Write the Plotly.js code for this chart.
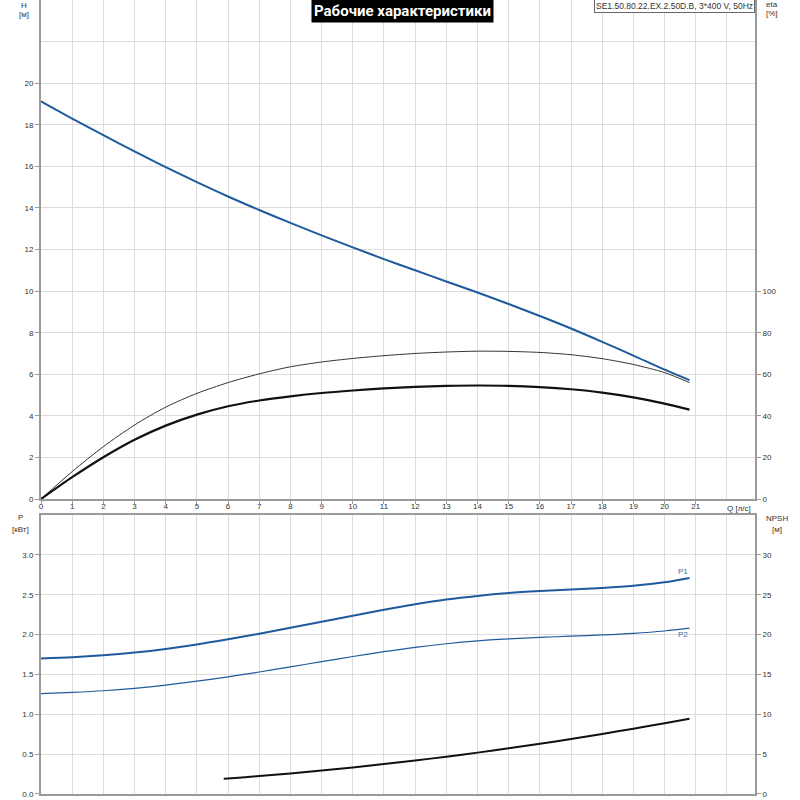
<!DOCTYPE html>
<html>
<head>
<meta charset="utf-8">
<script src="https://cdn.plot.ly/plotly-3.0.1.min.js"></script>
<style>html,body{margin:0;padding:0;background:#fff;}#chart{width:800px;height:800px;}</style>
</head>
<body>
<div id="chart"></div>
<script>
// ---- data ----
const Q = [0,1,2,3,4,5,6,7,8,9,10,11,12,13,14,15,16,17,18,19,20,20.8];
const H = [19.13,18.3,17.5,16.72,15.96,15.24,14.55,13.9,13.28,12.68,12.1,11.54,11.0,10.46,9.93,9.38,8.8,8.2,7.56,6.9,6.22,5.72];
const etaPump = [0,13.2,25.2,35.6,44.2,50.8,56,60.2,63.6,65.9,67.6,68.95,70,70.7,71.1,71.0,70.5,69.4,67.5,64.7,60.8,56];
const etaTotal = [0,10.5,20.1,28.5,35.3,40.6,44.6,47.4,49.4,51.0,52.2,53.2,53.9,54.4,54.6,54.45,53.85,52.8,51.2,48.9,45.9,43];
const P1 = [1.70,1.715,1.74,1.775,1.82,1.875,1.94,2.01,2.085,2.16,2.235,2.31,2.38,2.44,2.485,2.52,2.545,2.565,2.585,2.612,2.655,2.71];
const P2 = [1.26,1.275,1.295,1.325,1.365,1.415,1.47,1.53,1.595,1.66,1.725,1.785,1.84,1.885,1.92,1.945,1.965,1.98,1.995,2.015,2.045,2.08];
const Qnpsh = [5.86,6,7,8,9,10,11,12,13,14,15,16,17,18,19,20,20.8];
const NPSH = [1.92,1.96,2.25,2.58,2.94,3.33,3.75,4.2,4.68,5.19,5.73,6.30,6.90,7.53,8.19,8.88,9.43];
const xTicks = [0,1,2,3,4,5,6,7,8,9,10,11,12,13,14,15,16,17,18,19,20,21];
const hTicks = [0,2,4,6,8,10,12,14,16,18,20];
const etaTicks = [0,20,40,60,80,100];
const pTicks = [0,0.5,1.0,1.5,2.0,2.5,3.0];
const pLabels = ['0.0','0.5','1.0','1.5','2.0','2.5','3.0'];
const npshTicks = [0,5,10,15,20,25,30];
const titleText = 'Рабочие характеристики';
const modelText = 'SE1.50.80.22.EX.2.50D.B, 3*400 V, 50Hz';

const blue = '#1f5b9c';
const grid = '#dcdcdc';
const axc = '#9a9a9a';
const FONT = 'Liberation Sans, Arial, sans-serif';
const tf = {family: FONT, size: 8, color: '#333'};
const PH = 794; // plot-area height in px (t=0)
const py = v => (PH - v) / PH; // pixel row -> paper y

const traces = [
  {x: Q, y: H, xaxis: 'x', yaxis: 'y', mode: 'lines', line: {color: blue, width: 2, shape: 'spline', smoothing: 0.8}},
  {x: Q, y: etaPump, xaxis: 'x', yaxis: 'y2', mode: 'lines', line: {color: '#333', width: 1, shape: 'spline', smoothing: 0.8}},
  {x: Q, y: etaTotal, xaxis: 'x', yaxis: 'y2', mode: 'lines', line: {color: '#111', width: 2.2, shape: 'spline', smoothing: 0.8}},
  {x: Q, y: P1, xaxis: 'x2', yaxis: 'y3', mode: 'lines', line: {color: blue, width: 2, shape: 'spline', smoothing: 0.8}},
  {x: Q, y: P2, xaxis: 'x2', yaxis: 'y3', mode: 'lines', line: {color: blue, width: 1.2, shape: 'spline', smoothing: 0.8}},
  {x: Qnpsh, y: NPSH, xaxis: 'x2', yaxis: 'y4', mode: 'lines', line: {color: '#111', width: 2, shape: 'spline', smoothing: 0.8}}
];

const xr = [0, 22.9];
const lbl = (text, x, y) => ({text: text, xref: 'paper', yref: 'paper', x: x, y: y, xanchor: 'center', yanchor: 'middle', showarrow: false, font: tf});
const layout = {
  width: 800, height: 800,
  margin: {l: 41, r: 45, t: 0, b: 6},
  showlegend: false,
  paper_bgcolor: '#fff', plot_bgcolor: '#fff',
  font: tf,
  xaxis: {domain: [0,1], anchor: 'y', range: xr, tickvals: xTicks, ticks: 'outside', ticklen: 3, tickcolor: axc,
          ticklabelstandoff: -5,
          showgrid: true, gridcolor: grid, gridwidth: 1, showline: true, linecolor: axc, linewidth: 2, zeroline: false,
          tickfont: tf, minor: {tickvals: [22], showgrid: true, gridcolor: grid, ticks: ''}},
  yaxis: {domain: [0.3715, 1], anchor: 'x', range: [0, 24], tickvals: hTicks, ticks: 'outside', ticklen: 4, tickcolor: axc,
          showgrid: true, gridcolor: grid, gridwidth: 1, showline: true, linecolor: axc, linewidth: 2, zeroline: false,
          tickfont: tf, minor: {tickvals: [22], showgrid: true, gridcolor: grid, ticks: ''}},
  yaxis2: {overlaying: 'y', side: 'right', anchor: 'x', range: [0, 240], tickvals: etaTicks, ticks: 'outside', ticklen: 4,
           tickcolor: axc, showgrid: false, showline: true, linecolor: axc, linewidth: 2, zeroline: false, tickfont: tf},
  xaxis2: {domain: [0,1], anchor: 'y3', range: xr, tickvals: xTicks.concat([22]), ticks: '', showticklabels: false,
           showgrid: true, gridcolor: grid, showline: true, mirror: true, linecolor: axc, linewidth: 2, zeroline: false},
  yaxis3: {domain: [0, 0.3514], anchor: 'x2', range: [0, 3.5], tickvals: pTicks, ticktext: pLabels, ticks: 'outside', ticklen: 4,
           tickcolor: axc, showgrid: true, gridcolor: grid, showline: true, linecolor: axc, linewidth: 2, zeroline: false, tickfont: tf},
  yaxis4: {overlaying: 'y3', side: 'right', anchor: 'x2', range: [0, 35], tickvals: npshTicks, ticks: 'outside', ticklen: 4,
           tickcolor: axc, showgrid: false, showline: true, linecolor: axc, linewidth: 2, zeroline: false, tickfont: tf},
  annotations: [
    {text: titleText, xref: 'paper', yref: 'paper', x: (402.5 - 41) / 714, y: 1, yshift: 1, xanchor: 'center', yanchor: 'top', showarrow: false,
     bgcolor: '#000', borderpad: 2, font: {family: 'Roboto, Liberation Sans, sans-serif', size: 15, color: '#fff', weight: 'bold'}},
    {text: modelText, xref: 'paper', yref: 'paper', x: 1, y: 1, yshift: 1, xanchor: 'right', yanchor: 'top', showarrow: false,
     bgcolor: '#fff', bordercolor: '#666', borderwidth: 1, borderpad: 1, font: {family: FONT, size: 8.5, color: '#333'}},
    lbl('H', (24 - 41) / 714, py(5.5)),
    lbl('[м]', (24 - 41) / 714, py(14.5)),
    lbl('eta', (772 - 41) / 714, py(5)),
    lbl('[%]', (772 - 41) / 714, py(14)),
    lbl('P', (20 - 41) / 714, py(517.7)),
    lbl('[кВт]', (20 - 41) / 714, py(529)),
    lbl('NPSH', (776.7 - 41) / 714, py(518.3)),
    lbl('[м]', (776.7 - 41) / 714, py(529)),
    lbl('Q [л/с]', (739 - 41) / 714, py(508)),
    {text: 'P1', xref: 'x2', yref: 'y3', x: Q[Q.length-1], y: P1[P1.length-1], xanchor: 'right', yanchor: 'bottom', showarrow: false, font: {family: FONT, size: 8, color: '#3a6ea8'}},
    {text: 'P2', xref: 'x2', yref: 'y3', x: Q[Q.length-1], y: P2[P2.length-1], xanchor: 'right', yanchor: 'top', showarrow: false, font: {family: FONT, size: 8, color: '#3a6ea8'}}
  ]
};

Plotly.newPlot('chart', traces, layout, {displayModeBar: false, staticPlot: true});
</script>
</body>
</html>
